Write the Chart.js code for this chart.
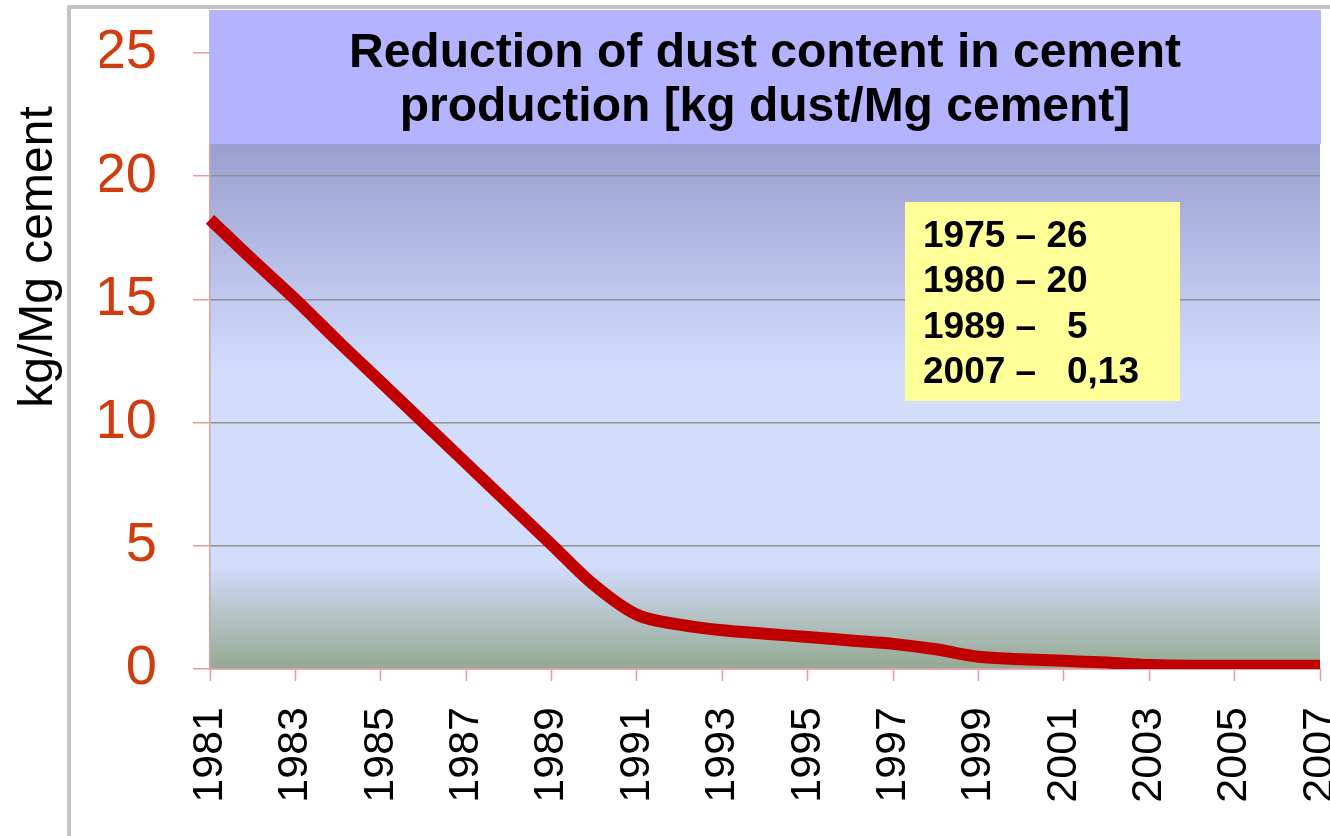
<!DOCTYPE html>
<html>
<head>
<meta charset="utf-8">
<title>Reduction of dust content in cement production</title>
<script src="https://cdn.jsdelivr.net/npm/chart.js@4/dist/chart.umd.min.js"></script>
<style>
  html, body { margin: 0; padding: 0; background: #ffffff; }
  #wrap { width: 1330px; height: 836px; }
</style>
</head>
<body>
<div id="wrap"><canvas id="dustChart" width="1330" height="836"></canvas></div>
<script>
// dados
const years = [1981, 1982, 1983, 1984, 1985, 1986, 1987, 1988, 1989, 1990,
               1991, 1992, 1993, 1994, 1995, 1996, 1997, 1998, 1999, 2000,
               2001, 2002, 2003, 2004, 2005, 2006, 2007];
const dustValues = [18.25, 16.6, 15.0, 13.3, 11.65, 10.0, 8.35, 6.7, 5.05, 3.4,
                    2.2, 1.8, 1.57, 1.43, 1.3, 1.16, 1.02, 0.8, 0.5, 0.4,
                    0.33, 0.26, 0.16, 0.13, 0.13, 0.13, 0.13];
const titleLines = ["Reduction of dust content in cement", "production [kg dust/Mg cement]"];
const yAxisTitle = "kg/Mg cement";
const noteLines = ["1975 \u2013 26", "1980 \u2013 20", "1989 \u2013   5", "2007 \u2013   0,13"];

const FONT = "'Liberation Sans', Arial, Helvetica, sans-serif";
const PINK = "#e69c9c";

// fundo, moldura, caixa de titulo e nota
const decorPlugin = {
    id: "decor",
    beforeDraw(chart) {
        const { ctx, chartArea: a } = chart;
        ctx.save();
        ctx.fillStyle = "#ffffff";
        ctx.fillRect(0, 0, chart.width, chart.height);

        // moldura cinza
        ctx.fillStyle = "#c4c4c4";
        ctx.fillRect(67, 5, chart.width - 67, 4);
        ctx.fillRect(67, 5, 4, chart.height - 5);

        // gradiente da area do grafico
        const g = ctx.createLinearGradient(0, a.top, 0, a.bottom);
        g.addColorStop(0, "#9a9fd0");
        g.addColorStop(0.15, "#9a9fd0");
        g.addColorStop(0.52, "#d2ddfc");
        g.addColorStop(0.83, "#d2ddfc");
        g.addColorStop(1, "#94a991");
        ctx.fillStyle = g;
        ctx.fillRect(a.left, a.top, a.width, a.height);
        ctx.restore();
    },
    afterDraw(chart) {
        const { ctx, chartArea: a } = chart;
        ctx.save();

        // caixa do titulo
        ctx.fillStyle = "#b3b3ff";
        ctx.fillRect(a.left - 1, a.top - 43, a.width + 2, 134);
        ctx.fillStyle = "#000000";
        ctx.font = "bold 48px " + FONT;
        ctx.textAlign = "center";
        ctx.textBaseline = "alphabetic";
        const cx = (a.left + a.right) / 2;
        ctx.fillText(titleLines[0], cx, a.top + 14);
        ctx.fillText(titleLines[1], cx, a.top + 68);

        // caixa amarela
        ctx.fillStyle = "#ffff99";
        ctx.fillRect(a.left + 695, a.top + 149, 275, 199);
        ctx.fillStyle = "#000000";
        ctx.font = "bold 37px " + FONT;
        ctx.textAlign = "left";
        noteLines.forEach((line, i) => {
            ctx.fillText(line, a.left + 713, a.top + 194 + i * 45.3);
        });

        // titulo do eixo y
        ctx.font = "48px " + FONT;
        ctx.textAlign = "center";
        ctx.translate(52, 257);
        ctx.rotate(-Math.PI / 2);
        ctx.fillText(yAxisTitle, 0, 0);
        ctx.restore();
    }
};

function renderDustChart() {
    const canvas = document.getElementById("dustChart");

    new Chart(canvas, {
        type: "line",
        data: {
            labels: years.map(String),
            datasets: [{
                label: "kg dust/Mg cement",
                data: dustValues,
                borderColor: "#c00000",
                borderWidth: 12,
                pointRadius: 0,
                cubicInterpolationMode: "monotone",
                fill: false
            }]
        },
        options: {
            responsive: false,
            animation: false,
            devicePixelRatio: 1,
            layout: { padding: { left: 100, top: 53, right: 10, bottom: 0 } },
            plugins: {
                legend: { display: false },
                tooltip: { enabled: false },
                title: { display: false }
            },
            scales: {
                x: {
                    offset: false,
                    grid: { drawOnChartArea: false, tickLength: 12, tickColor: PINK, tickWidth: 1.5 },
                    border: { color: PINK, width: 1.5 },
                    ticks: {
                        autoSkip: false,
                        minRotation: 90,
                        maxRotation: 90,
                        padding: 26,
                        color: "#000000",
                        font: { family: FONT, size: 43 },
                        callback: (v, i) => (i % 2 === 0 ? years[i] : null)
                    },
                    afterFit: s => { s.height = 167; s.paddingLeft = 0; s.paddingRight = 0; }
                },
                y: {
                    min: 0,
                    max: 25,
                    grid: { color: "#909090", lineWidth: 1.5, tickLength: 17, tickColor: PINK, tickWidth: 1.5 },
                    border: { color: PINK, width: 1.5 },
                    ticks: {
                        stepSize: 5,
                        padding: 36,
                        color: "#cf3d0e",
                        font: { family: FONT, size: 56 }
                    },
                    afterFit: s => { s.width = 110; s.paddingTop = 0; s.paddingBottom = 0; }
                }
            }
        },
        plugins: [decorPlugin]
    });
}

document.addEventListener("DOMContentLoaded", renderDustChart);
</script>
</body>
</html>
